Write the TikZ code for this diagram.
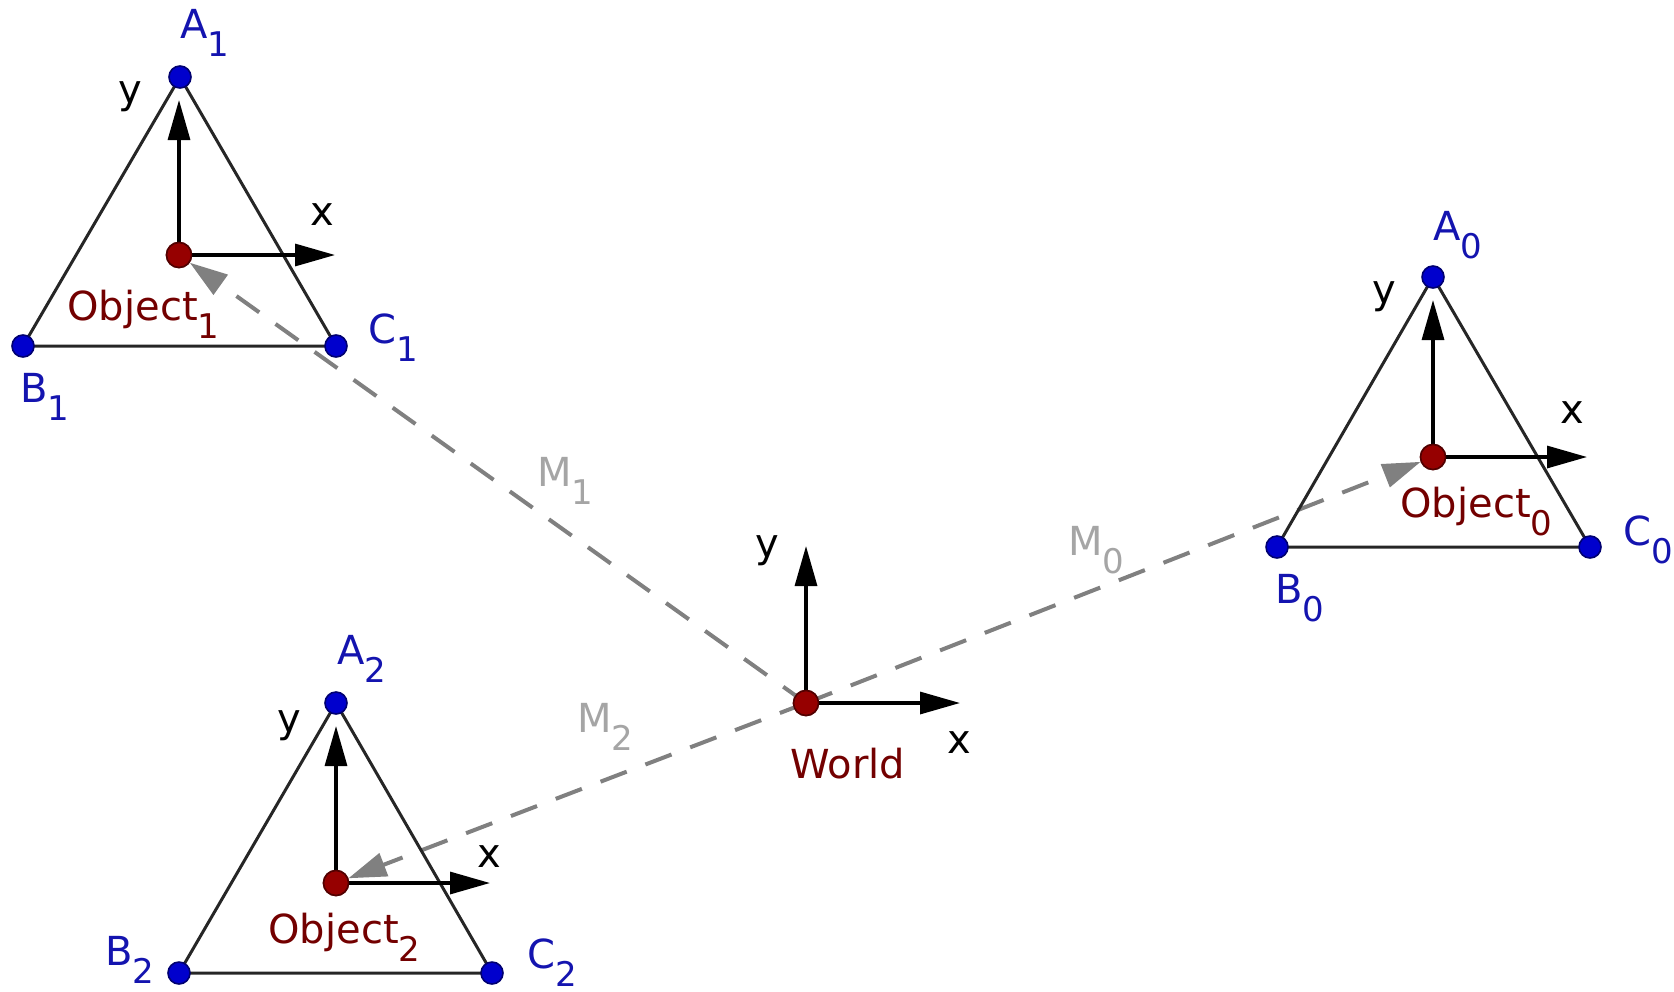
\documentclass[tikz,border=0pt]{standalone}
\usepackage{fontspec}
\setmainfont{DejaVu Sans}
\usetikzlibrary{arrows.meta}
\definecolor{ptblue}{RGB}{0,0,205}
\definecolor{lblblue}{RGB}{20,20,175}
\definecolor{objred}{RGB}{115,0,0}
\definecolor{dotred}{RGB}{150,0,0}
\definecolor{mgray}{RGB}{128,128,128}
\definecolor{lgray}{RGB}{165,165,165}
\newcommand\subs[1]{\raisebox{-9pt}{\fontsize{17}{17}\selectfont #1}}
\tikzset{
  vertex/.style={circle,fill=ptblue,draw=ptblue!55!black,line width=0.8pt,inner sep=0pt,minimum size=11pt},
  origin/.style={circle,fill=dotred,draw=dotred!55!black,line width=0.8pt,inner sep=0pt,minimum size=12.5pt},
  tri/.style={line width=1.5pt,draw=black!85},
  axis/.style={line width=1.6pt,-{Triangle[length=20pt,width=11pt]}},
  mline/.style={draw=mgray,line width=2pt,dash pattern=on 14pt off 10pt,-{Triangle[length=19pt,width=12pt]}},
  lbl/.style={font=\fontsize{20}{20}\selectfont,text=lblblue,inner sep=0pt,anchor=base west},
  objlbl/.style={font=\fontsize{20}{20}\selectfont,text=objred,inner sep=0pt,anchor=base west},
  axlbl/.style={font=\fontsize{20}{20}\selectfont,text=black,inner sep=0pt,anchor=base west},
  mlbl/.style={font=\fontsize{20}{20}\selectfont,text=lgray,inner sep=0pt,anchor=base west}
}
\begin{document}
\begin{tikzpicture}[x=0.5pt,y=-0.5pt]
\useasboundingbox (0,0) rectangle (1674,991);
% points
\coordinate (A1) at (180,77); \coordinate (B1) at (23,346); \coordinate (C1) at (336,346);
\coordinate (A0) at (1433,277); \coordinate (B0) at (1277,547); \coordinate (C0) at (1590,547);
\coordinate (A2) at (336,703); \coordinate (B2) at (179,973); \coordinate (C2) at (492,973);
\coordinate (O1) at (179,255); \coordinate (O0) at (1433,457); \coordinate (O2) at (336,883);
\coordinate (W) at (806,703);
% axis tips
\coordinate (O1x) at (335,255); \coordinate (O1y) at (179,100);
\coordinate (O0x) at (1587,457); \coordinate (O0y) at (1433,300);
\coordinate (O2x) at (490,883); \coordinate (O2y) at (336,726);
\coordinate (Wx) at (960,703); \coordinate (Wy) at (806,546);
% origin dots as nodes
\node[origin] (o1) at (O1) {};
\node[origin] (o0) at (O0) {};
\node[origin] (o2) at (O2) {};
\node[origin] (w) at (W) {};
% dashed transforms
\draw[mline] (w.center) -- (o1);
\draw[mline] (w.center) -- (o0);
\draw[mline] (w.center) -- (o2);
% triangles
\draw[tri] (A1) -- (B1) -- (C1) -- cycle;
\draw[tri] (A0) -- (B0) -- (C0) -- cycle;
\draw[tri] (A2) -- (B2) -- (C2) -- cycle;
% axes
\draw[axis] (o1.center) -- (O1x); \draw[axis] (o1.center) -- (O1y);
\draw[axis] (o0.center) -- (O0x); \draw[axis] (o0.center) -- (O0y);
\draw[axis] (o2.center) -- (O2x); \draw[axis] (o2.center) -- (O2y);
\draw[axis] (w.center) -- (Wx); \draw[axis] (w.center) -- (Wy);
% redraw dots on top
\node[origin] at (O1) {}; \node[origin] at (O0) {}; \node[origin] at (O2) {}; \node[origin] at (W) {};
% vertices
\node[vertex] (a1) at (A1) {}; \node[vertex] (b1) at (B1) {}; \node[vertex] (c1) at (C1) {};
\node[vertex] (a0) at (A0) {}; \node[vertex] (b0) at (B0) {}; \node[vertex] (c0) at (C0) {};
\node[vertex] (a2) at (A2) {}; \node[vertex] (b2) at (B2) {}; \node[vertex] (c2) at (C2) {};
% labels
\node[lbl] (la1) at (180,38) {A\subs{1}};
\node[lbl] (lb1) at (20,402) {B\subs{1}};
\node[lbl] (lc1) at (368,343) {C\subs{1}};
\node[lbl] (la0) at (1433,240) {A\subs{0}};
\node[lbl] (lb0) at (1275,603) {B\subs{0}};
\node[lbl] (lc0) at (1623,545) {C\subs{0}};
\node[lbl] (la2) at (337,664) {A\subs{2}};
\node[lbl] (lb2) at (105,965) {B\subs{2}};
\node[lbl] (lc2) at (527,968) {C\subs{2}};
\node[objlbl] (lo1) at (67,320) {Object\subs{1}};
\node[objlbl] (lo0) at (1400,517) {Object\subs{0}};
\node[objlbl] (lo2) at (268,943) {Object\subs{2}};
\node[objlbl] (lw) at (790,778) {World};
\node[axlbl] (ly1) at (118,103) {y}; \node[axlbl] (lx1) at (310,225) {x};
\node[axlbl] (ly0) at (1372,303) {y}; \node[axlbl] (lx0) at (1560,423) {x};
\node[axlbl] (ly2) at (277,732) {y}; \node[axlbl] (lx2) at (477,867) {x};
\node[axlbl] (lyw) at (755,557) {y}; \node[axlbl] (lxw) at (947,753) {x};
\node[mlbl] (m1) at (537,486) {M\subs{1}};
\node[mlbl] (m0) at (1068,555) {M\subs{0}};
\node[mlbl] (m2) at (577,732) {M\subs{2}};
\end{tikzpicture}
\end{document}
